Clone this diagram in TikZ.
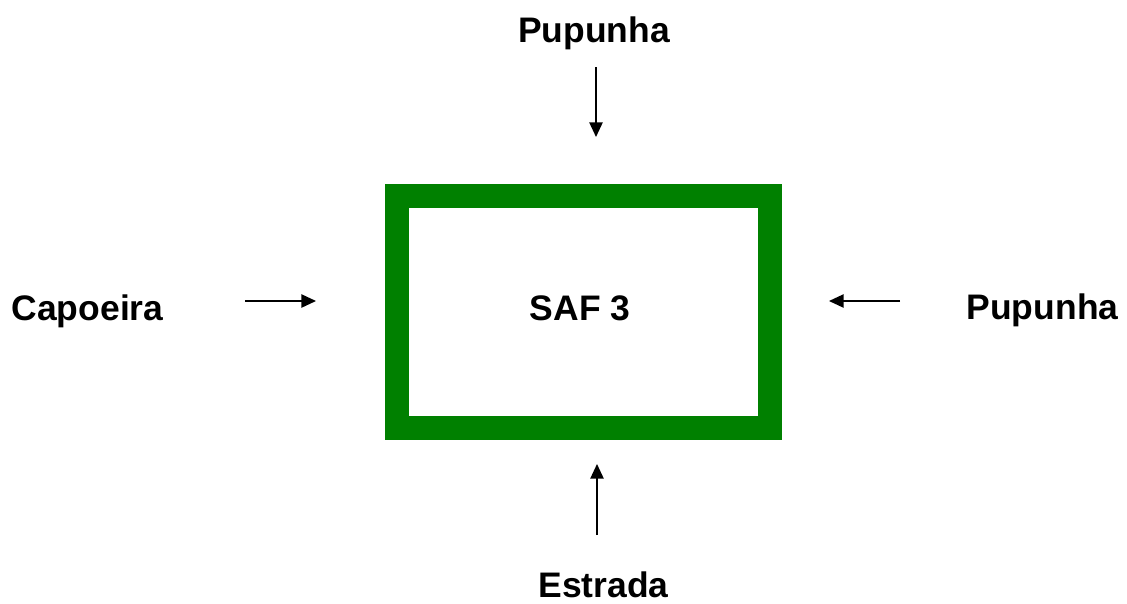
\documentclass[tikz,border=0pt]{standalone}
\usepackage{fontspec}
\setmainfont{Liberation Sans}
\usepackage{xcolor}
\usetikzlibrary{arrows.meta,positioning}

\definecolor{safgreen}{RGB}{0,128,0}

\tikzset{
  lbl/.style={font=\fontsize{26.6}{32}\selectfont\bfseries, inner sep=0pt, anchor=base},
  plot/.style={draw=safgreen, line width=18pt, minimum width=279.75pt,
    minimum height=174pt, inner sep=0pt},
  flow/.style={line width=1.1pt, -{Triangle[length=11pt,width=10pt]}},
}

\begin{document}
\begin{tikzpicture}[x=0.75pt,y=-0.75pt]
    \useasboundingbox (0,0) rectangle (1127,603);
    % the plot and its neighbours
    \node[plot] (saf) at (583.5,312) {};
    \node[lbl] (saflbl) at (580,320) {SAF 3};
    \node[lbl] (north) at (594,42) {Pupunha};
    \node[lbl] (west) at (87.5,320) {Capoeira};
    \node[lbl] (east) at (1042.5,319) {Pupunha};
    \node[lbl] (south) at (603.5,597) {Estrada};
    % arrow ends
    \coordinate (n1) at (596,67);   \coordinate (n2) at (596,137);
    \coordinate (w1) at (245,301);  \coordinate (w2) at (316,301);
    \coordinate (e1) at (900,301);  \coordinate (e2) at (829,301);
    \coordinate (s1) at (597,535);  \coordinate (s2) at (597,464);
    \draw[flow] (n1) -- (n2);
    \draw[flow] (w1) -- (w2);
    \draw[flow] (e1) -- (e2);
    \draw[flow] (s1) -- (s2);
\end{tikzpicture}
\end{document}
